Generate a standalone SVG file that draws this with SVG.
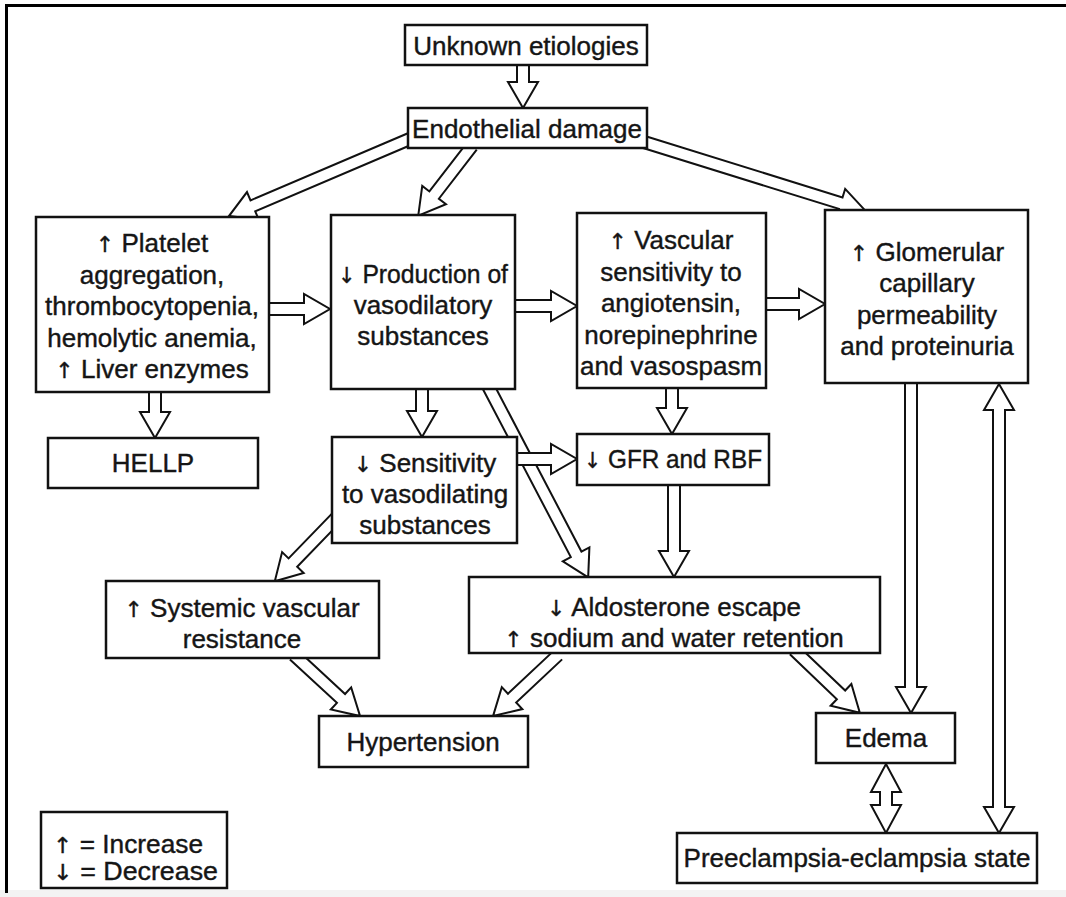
<svg xmlns="http://www.w3.org/2000/svg" width="1066" height="897" viewBox="0 0 1066 897">
<style>
.box{fill:#fff;stroke:#111;stroke-width:2.5}
.t{font-family:"Liberation Sans",Arial,sans-serif;font-size:26px;fill:#151515;stroke:#151515;stroke-width:0.4;text-anchor:middle}
.tl{font-family:"Liberation Sans",Arial,sans-serif;font-size:25px;fill:#151515;stroke:#151515;stroke-width:0.4}
.ag{font-family:"DejaVu Sans",sans-serif;font-size:22px}
.ar{fill:#fff;stroke:#111;stroke-width:2;stroke-linejoin:miter}
.frame{stroke:#000;stroke-width:3;fill:none}
</style>
<rect x="0" y="0" width="1066" height="897" fill="#fff"/>
<rect x="0" y="890" width="1066" height="7" fill="#f3f3f3"/>
<path class="frame" d="M6.5,893 V5.5 H1066"/>

<g id="connectors">
<path class="ar" transform="translate(523,65) rotate(90)" d="M0,-6 H17 V-15 L43,0 L17,15 V6 H0"/>
<path class="ar" transform="translate(412,138) rotate(156.9)" d="M0,-6 H173 V-15 L199,0 L173,15 V6 H0"/>
<path class="ar" transform="translate(472,146) rotate(127.65)" d="M0,-6 H62 V-15 L88,0 L62,15 V6 H0"/>
<path class="ar" transform="translate(644,142) rotate(17.27)" d="M0,-6 H206 V-15 L232,0 L206,15 V6 H0"/>
<path class="ar" transform="translate(266,309)" d="M0,-6 H38 V-15 L64,0 L38,15 V6 H0"/>
<path class="ar" transform="translate(512,306)" d="M0,-6 H39 V-15 L65,0 L39,15 V6 H0"/>
<path class="ar" transform="translate(763,304)" d="M0,-6 H36 V-15 L62,0 L36,15 V6 H0"/>
<path class="ar" transform="translate(155,389) rotate(90)" d="M0,-6 H23 V-15 L49,0 L23,15 V6 H0"/>
<path class="ar" transform="translate(422,386) rotate(90)" d="M0,-6 H25 V-15 L51,0 L25,15 V6 H0"/>
<path class="ar" transform="translate(672,385) rotate(90)" d="M0,-6 H23 V-15 L49,0 L23,15 V6 H0"/>
<path class="ar" transform="translate(488,386) rotate(62.37)" d="M0,-6 H190 V-15 L216,0 L190,15 V6 H0"/>
<path class="ar" transform="translate(514,459)" d="M0,-6 H37 V-15 L63,0 L37,15 V6 H0"/>
<path class="ar" transform="translate(336,518) rotate(134.07)" d="M0,-6 H62 V-15 L88,0 L62,15 V6 H0"/>
<path class="ar" transform="translate(674,482) rotate(90)" d="M0,-6 H69 V-15 L95,0 L69,15 V6 H0"/>
<path class="ar" transform="translate(294,655) rotate(42.75)" d="M0,-6 H64 V-15 L90,0 L64,15 V6 H0"/>
<path class="ar" transform="translate(558,655) rotate(136.82)" d="M0,-6 H63 V-15 L89,0 L63,15 V6 H0"/>
<path class="ar" transform="translate(794,650) rotate(43.67)" d="M0,-6 H65 V-15 L91,0 L65,15 V6 H0"/>
<path class="ar" transform="translate(911,380) rotate(90)" d="M0,-6 H307 V-15 L333,0 L307,15 V6 H0"/>
<path class="ar" transform="translate(999,384) rotate(90)" d="M0,0 L26,-15 V-6 H423 V-15 L449,0 L423,15 V6 H26 V15 Z"/>
<path class="ar" transform="translate(886,764) rotate(90)" d="M0,0 L28,-15 V-6 H41 V-15 L69,0 L41,15 V6 H28 V15 Z"/>
</g>

<g id="unknown">
<rect class="box" x="405" y="25" width="242" height="40"/>
<text class="t" x="526" y="55">Unknown etiologies</text>
</g>
<g id="endothelial">
<rect class="box" x="408" y="108" width="239" height="40"/>
<text class="t" x="527" y="138">Endothelial damage</text>
</g>
<g id="platelet">
<rect class="box" x="36" y="217" width="233" height="175"/>
<text class="t" x="152" y="252"><tspan class="ag">↑</tspan> Platelet</text>
<text class="t" x="152" y="284">aggregation,</text>
<text class="t" x="152" y="315">thrombocytopenia,</text>
<text class="t" x="152" y="347">hemolytic anemia,</text>
<text class="t" x="152" y="378"><tspan class="ag">↑</tspan> Liver enzymes</text>
</g>
<g id="production">
<rect class="box" x="331" y="215" width="184" height="174"/>
<text class="t" x="423" y="283" textLength="170" lengthAdjust="spacingAndGlyphs"><tspan class="ag">↓</tspan> Production of</text>
<text class="t" x="423" y="314">vasodilatory</text>
<text class="t" x="423" y="345">substances</text>
</g>
<g id="vascular">
<rect class="box" x="577" y="213" width="189" height="175"/>
<text class="t" x="671" y="249"><tspan class="ag">↑</tspan> Vascular</text>
<text class="t" x="671" y="281">sensitivity to</text>
<text class="t" x="671" y="312">angiotensin,</text>
<text class="t" x="671" y="344">norepinephrine</text>
<text class="t" x="671" y="375">and vasospasm</text>
</g>
<g id="glomerular">
<rect class="box" x="825" y="210" width="203" height="173"/>
<text class="t" x="927" y="261"><tspan class="ag">↑</tspan> Glomerular</text>
<text class="t" x="927" y="292">capillary</text>
<text class="t" x="927" y="324">permeability</text>
<text class="t" x="927" y="355">and proteinuria</text>
</g>
<g id="hellp">
<rect class="box" x="48" y="438" width="210" height="50"/>
<text class="t" x="153" y="472">HELLP</text>
</g>
<g id="sensitivity">
<rect class="box" x="332" y="437" width="185" height="106"/>
<text class="t" x="425" y="472"><tspan class="ag">↓</tspan> Sensitivity</text>
<text class="t" x="425" y="503">to vasodilating</text>
<text class="t" x="425" y="534">substances</text>
</g>
<g id="gfr">
<rect class="box" x="577" y="434" width="192" height="51"/>
<text class="t" x="673" y="468" textLength="178" lengthAdjust="spacingAndGlyphs"><tspan class="ag">↓</tspan> GFR and RBF</text>
</g>
<g id="systemic">
<rect class="box" x="106" y="581" width="273" height="77"/>
<text class="t" x="242" y="617"><tspan class="ag">↑</tspan> Systemic vascular</text>
<text class="t" x="242" y="648">resistance</text>
</g>
<g id="aldosterone">
<rect class="box" x="469" y="577" width="411" height="76"/>
<text class="t" x="674" y="616"><tspan class="ag">↓</tspan> Aldosterone escape</text>
<text class="t" x="674" y="647"><tspan class="ag">↑</tspan> sodium and water retention</text>
</g>
<g id="hypertension">
<rect class="box" x="319" y="716" width="209" height="51"/>
<text class="t" x="423" y="751">Hypertension</text>
</g>
<g id="edema">
<rect class="box" x="816" y="713" width="139" height="50"/>
<text class="t" x="886" y="747">Edema</text>
</g>
<g id="preeclampsia">
<rect class="box" x="677" y="833" width="360" height="50"/>
<text class="t" x="857" y="867">Preeclampsia-eclampsia state</text>
</g>
<g id="legend">
<rect class="box" x="41" y="812" width="186" height="76"/>
<text class="tl" x="53" y="853" textLength="150" lengthAdjust="spacingAndGlyphs"><tspan class="ag">↑</tspan> = Increase</text>
<text class="tl" x="53" y="880" textLength="165" lengthAdjust="spacingAndGlyphs"><tspan class="ag">↓</tspan> = Decrease</text>
</g>
</svg>
